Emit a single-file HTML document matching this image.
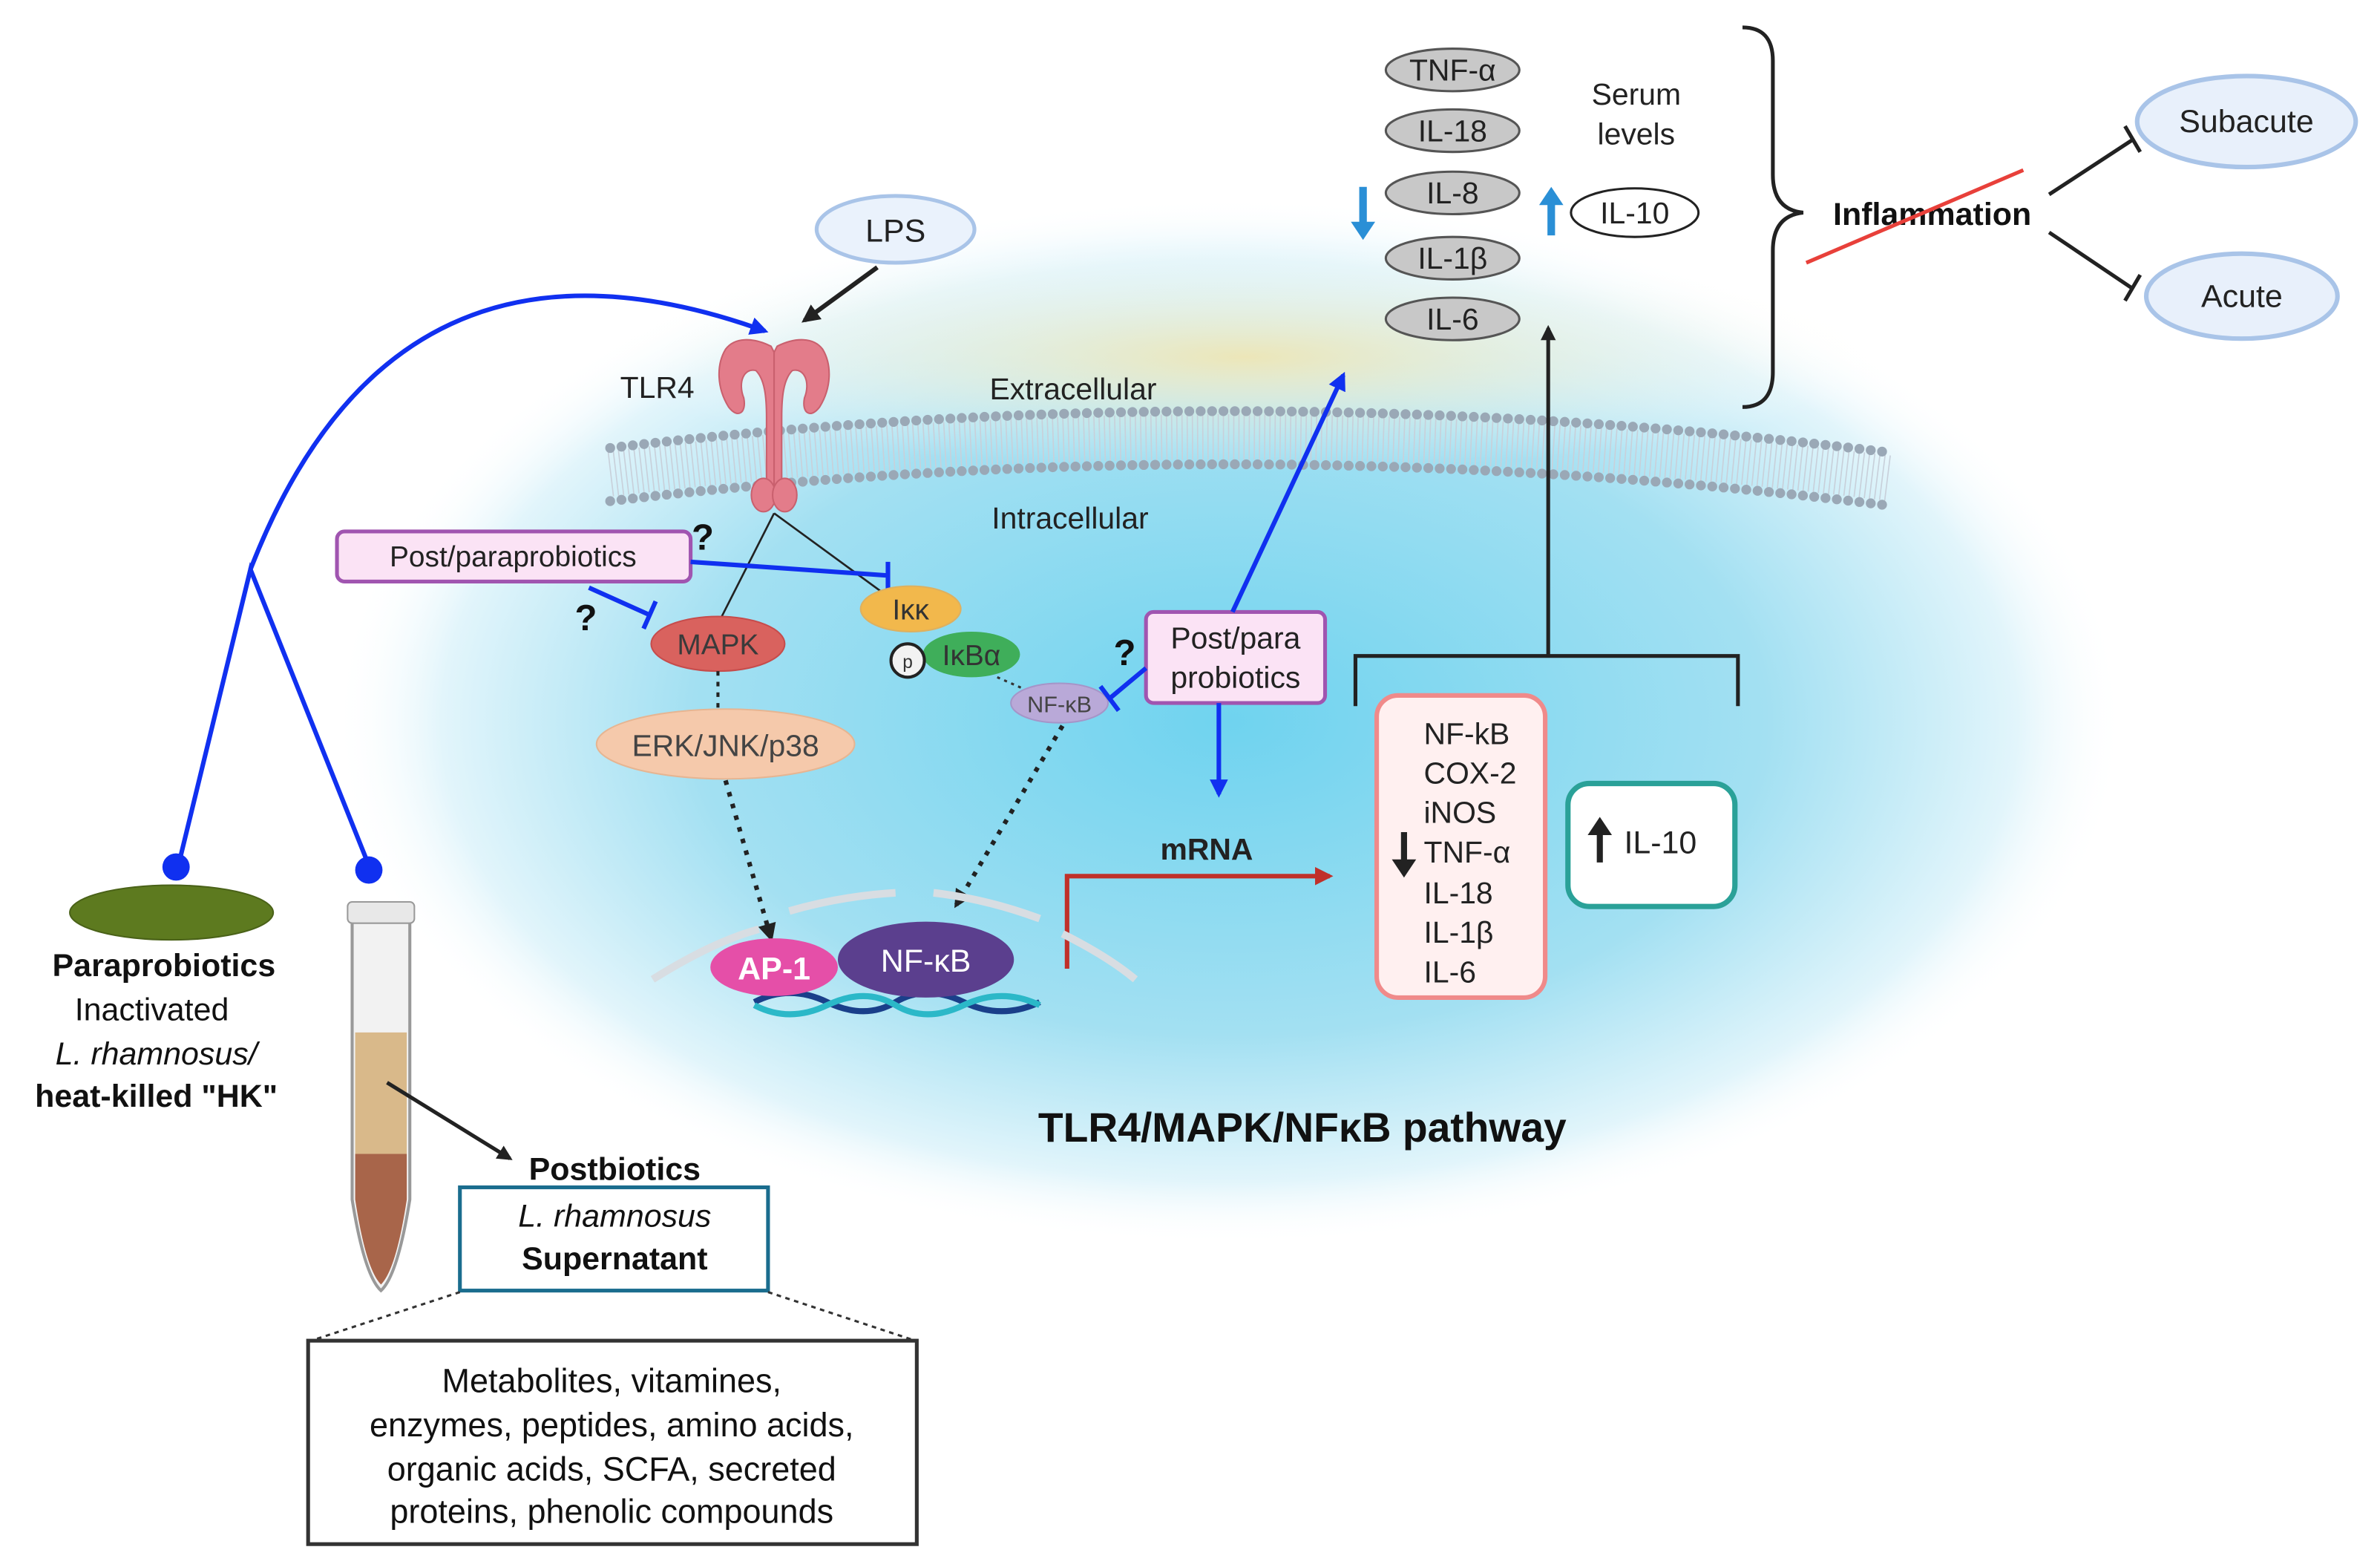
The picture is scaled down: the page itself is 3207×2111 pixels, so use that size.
<!DOCTYPE html>
<html><head><meta charset="utf-8"><style>
html,body{margin:0;padding:0;background:#fff}
svg{display:block}
text{font-family:"Liberation Sans",sans-serif}
</style></head><body>
<svg width="3207" height="2111" viewBox="0 0 1568 1032" xmlns="http://www.w3.org/2000/svg">
<defs>
<radialGradient id="cell" cx="0.5" cy="0.5" r="0.5">
<stop offset="0" stop-color="#6fd3ef"/>
<stop offset="0.6" stop-color="#a3e0f2"/>
<stop offset="0.88" stop-color="#e2f5fb"/>
<stop offset="1" stop-color="#ffffff" stop-opacity="0"/>
</radialGradient>
<radialGradient id="ext" cx="0.5" cy="0.5" r="0.5">
<stop offset="0" stop-color="#ece6b8"/>
<stop offset="1" stop-color="#ffffff" stop-opacity="0"/>
</radialGradient>
<marker id="ab" viewBox="0 0 10 10" refX="8" refY="5" markerWidth="4" markerHeight="4" orient="auto"><path d="M0,0L10,5L0,10z" fill="#1030f0"/></marker>
<marker id="ak" viewBox="0 0 10 10" refX="8" refY="5" markerWidth="4" markerHeight="4" orient="auto"><path d="M0,0L10,5L0,10z" fill="#222"/></marker>
<marker id="ar" viewBox="0 0 10 10" refX="8" refY="5" markerWidth="4" markerHeight="4" orient="auto"><path d="M0,0L10,5L0,10z" fill="#c0302a"/></marker>
</defs>
<ellipse cx="810" cy="475" rx="590" ry="345" fill="url(#cell)"/>
<ellipse cx="820" cy="235" rx="430" ry="75" fill="url(#ext)"/>
<!-- membrane -->
<path d="M402,312 Q820,262 1245,315" stroke="#c8d0da" stroke-width="30" stroke-dasharray="0.8 2.6" fill="none"/>
<path d="M402,295 Q820,245 1245,298" stroke="#9aa8b6" stroke-width="6.5" stroke-linecap="round" stroke-dasharray="0 7.5" fill="none"/>
<path d="M402,330 Q820,280 1245,333" stroke="#9aa8b6" stroke-width="6.5" stroke-linecap="round" stroke-dasharray="0 7.5" fill="none"/>
<text x="707" y="263" font-size="20" text-anchor="middle" fill="#222">Extracellular</text>
<text x="705" y="348" font-size="20" text-anchor="middle" fill="#222">Intracellular</text>
<!-- LPS -->
<ellipse cx="590" cy="151" rx="52" ry="22" fill="#eaf2fc" stroke="#a9c4e8" stroke-width="2.5"/>
<text x="590" y="159" font-size="21" text-anchor="middle" fill="#222">LPS</text>
<line x1="578" y1="176" x2="530" y2="211" stroke="#222" stroke-width="3" marker-end="url(#ak)"/>
<!-- TLR4 -->
<text x="433" y="262" font-size="20" text-anchor="middle" fill="#222">TLR4</text>
<g fill="#e37c8a" stroke="#c9606e" stroke-width="1">
<path d="M508,228 C496,222 484,222 478,230 C472,240 472,255 480,268 C486,276 492,272 490,262 C486,252 490,242 498,244 C504,250 505,262 505,275 L505,322 L510,322 L510,232 Z"/>
<path d="M512,228 C524,222 536,222 542,230 C548,240 548,255 540,268 C534,276 528,272 530,262 C534,252 530,242 522,244 C516,250 515,262 515,275 L515,322 L510,322 L510,232 Z"/>
<ellipse cx="503" cy="326" rx="8" ry="11"/><ellipse cx="517" cy="326" rx="8" ry="11"/>
</g>
<line x1="510" y1="338" x2="475" y2="407" stroke="#222" stroke-width="1.3"/>
<line x1="510" y1="338" x2="588" y2="395" stroke="#222" stroke-width="1.3"/>
<!-- Post/paraprobiotics box -->
<rect x="222" y="350" width="233" height="33" rx="5" fill="#fbe3f5" stroke="#a055b0" stroke-width="2.5"/>
<text x="338" y="373" font-size="19" text-anchor="middle" fill="#222">Post/paraprobiotics</text>
<text x="463" y="362" font-size="24" font-weight="bold" text-anchor="middle" fill="#111">?</text>
<text x="386" y="415" font-size="24" font-weight="bold" text-anchor="middle" fill="#111">?</text>
<path d="M455,370 L585,379 M585,370 L585,390" stroke="#1030f0" stroke-width="3" fill="none"/>
<path d="M388,387 L428,405 M432,396 L424,414" stroke="#1030f0" stroke-width="3" fill="none"/>
<!-- MAPK etc -->
<ellipse cx="473" cy="424" rx="44" ry="18" fill="#d9625e" stroke="#c64c4c"/>
<text x="473" y="431" font-size="19" text-anchor="middle" fill="#3a3a3a">MAPK</text>
<line x1="473" y1="442" x2="473" y2="468" stroke="#222" stroke-width="2" stroke-dasharray="3,4"/>
<ellipse cx="478" cy="490" rx="85" ry="23" fill="#f5c9ab" stroke="#e6b592"/>
<text x="478" y="498" font-size="20" text-anchor="middle" fill="#444">ERK/JNK/p38</text>
<ellipse cx="600" cy="401" rx="33" ry="15" fill="#f2b84c" stroke="#ddb060"/>
<text x="600" y="408" font-size="19" text-anchor="middle" fill="#333">Iκκ</text>
<ellipse cx="640" cy="431" rx="32" ry="15" fill="#3fae5a"/>
<text x="640" y="438" font-size="19" text-anchor="middle" fill="#333">IκBα</text>
<circle cx="598" cy="435" r="11" fill="#f2f2f2" stroke="#222" stroke-width="2"/>
<text x="598" y="440" font-size="12" text-anchor="middle" fill="#333">p</text>
<line x1="657" y1="446" x2="682" y2="457" stroke="#333" stroke-width="1.5" stroke-dasharray="2,3"/>
<ellipse cx="698" cy="463" rx="32" ry="13" fill="#b9a9d8" stroke="#a595c8"/>
<text x="698" y="469" font-size="15" text-anchor="middle" fill="#444">NF-κB</text>
<line x1="478" y1="514" x2="508" y2="618" stroke="#222" stroke-width="3" stroke-dasharray="3,5" marker-end="url(#ak)"/>
<line x1="700" y1="478" x2="630" y2="596" stroke="#222" stroke-width="3" stroke-dasharray="3,5" marker-end="url(#ak)"/>
<!-- Post/para probiotics right -->
<rect x="755" y="403" width="118" height="60" rx="5" fill="#fbe3f5" stroke="#a055b0" stroke-width="2.5"/>
<text x="814" y="427" font-size="20" text-anchor="middle" fill="#222">Post/para</text>
<text x="814" y="453" font-size="20" text-anchor="middle" fill="#222">probiotics</text>
<text x="741" y="438" font-size="24" font-weight="bold" text-anchor="middle" fill="#111">?</text>
<path d="M755,440 L731,460 M725,452 L737,468" stroke="#1030f0" stroke-width="3" fill="none"/>
<line x1="812" y1="403" x2="885" y2="247" stroke="#1030f0" stroke-width="3" marker-end="url(#ab)"/>
<line x1="803" y1="463" x2="803" y2="523" stroke="#1030f0" stroke-width="3" marker-end="url(#ab)"/>
<text x="795" y="566" font-size="20" font-weight="bold" text-anchor="middle" fill="#222">mRNA</text>
<path d="M703,638 L703,577 L876,577" stroke="#c0302a" stroke-width="3" fill="none" marker-end="url(#ar)"/>
<!-- nucleus -->
<path d="M430,645 Q470,620 500,612" stroke="#d8dde2" stroke-width="5" fill="none"/>
<path d="M520,600 Q555,590 590,588" stroke="#d8dde2" stroke-width="5" fill="none"/>
<path d="M615,588 Q650,592 685,605" stroke="#d8dde2" stroke-width="5" fill="none"/>
<path d="M700,615 Q730,630 748,645" stroke="#d8dde2" stroke-width="5" fill="none"/>
<path d="M497,660 Q520,648 545,660 T590,660 T635,660 T685,660" stroke="#1a3f8a" stroke-width="4" fill="none"/>
<path d="M497,662 Q520,674 545,662 T590,662 T635,662 T685,662" stroke="#2bb8c8" stroke-width="4" fill="none"/>
<ellipse cx="510" cy="637" rx="42" ry="19" fill="#e54fa8"/>
<text x="510" y="645" font-size="21" font-weight="bold" text-anchor="middle" fill="#fff">AP-1</text>
<ellipse cx="610" cy="632" rx="58" ry="25" fill="#5b3f8e"/>
<text x="610" y="640" font-size="21" text-anchor="middle" fill="#fff">NF-κB</text>
<text x="858" y="752" font-size="27" font-weight="bold" text-anchor="middle" fill="#111">TLR4/MAPK/NFκB pathway</text>
<!-- bracket -->
<path d="M893,465 L893,432 L1145,432 L1145,465" stroke="#222" stroke-width="2.5" fill="none"/>
<line x1="1020" y1="432" x2="1020" y2="216" stroke="#222" stroke-width="2.5" marker-end="url(#ak)"/>
<rect x="907" y="458" width="111" height="199" rx="14" fill="#fff0f0" stroke="#f08a8a" stroke-width="3"/>
<g font-size="20" fill="#222">
<text x="938" y="490">NF-kB</text><text x="938" y="516">COX-2</text><text x="938" y="542">iNOS</text><text x="938" y="568">TNF-α</text><text x="938" y="595">IL-18</text><text x="938" y="621">IL-1β</text><text x="938" y="647">IL-6</text>
</g>
<path d="M925,548 L925,570" stroke="#222" stroke-width="4"/><path d="M917,566 L925,578 L933,566Z" fill="#222"/>
<rect x="1033" y="516" width="110" height="81" rx="14" fill="#fff" stroke="#2aa198" stroke-width="3.5"/>
<path d="M1054,568 L1054,546" stroke="#222" stroke-width="4"/><path d="M1046,550 L1054,538 L1062,550Z" fill="#222"/>
<text x="1070" y="562" font-size="21" fill="#222">IL-10</text>
<!-- cytokines -->
<g fill="#c8c8c8" stroke="#555" stroke-width="1.5">
<ellipse cx="957" cy="46" rx="44" ry="14"/><ellipse cx="957" cy="86" rx="44" ry="14"/><ellipse cx="957" cy="127" rx="44" ry="14"/><ellipse cx="957" cy="170" rx="44" ry="14"/><ellipse cx="957" cy="210" rx="44" ry="14"/>
</g>
<g font-size="20" fill="#222" text-anchor="middle">
<text x="957" y="53">TNF-α</text><text x="957" y="93">IL-18</text><text x="957" y="134">IL-8</text><text x="957" y="177">IL-1β</text><text x="957" y="217">IL-6</text>
<text x="1078" y="69">Serum</text><text x="1078" y="95">levels</text>
</g>
<path d="M898,123 L898,148" stroke="#2a8fd6" stroke-width="5"/><path d="M890,146 L898,158 L906,146Z" fill="#2a8fd6"/>
<path d="M1022,155 L1022,132" stroke="#2a8fd6" stroke-width="5"/><path d="M1014,135 L1022,123 L1030,135Z" fill="#2a8fd6"/>
<ellipse cx="1077" cy="140" rx="42" ry="16" fill="#fff" stroke="#222" stroke-width="1.5"/>
<text x="1077" y="147" font-size="20" text-anchor="middle" fill="#222">IL-10</text>
<path d="M1148,18 Q1168,18 1168,40 L1168,115 Q1168,138 1188,140 Q1168,142 1168,165 L1168,245 Q1168,268 1148,268" stroke="#222" stroke-width="2.5" fill="none"/>
<text x="1273" y="148" font-size="21" font-weight="bold" text-anchor="middle" fill="#111">Inflammation</text>
<line x1="1190" y1="173" x2="1333" y2="112" stroke="#e8403a" stroke-width="2.5"/>
<path d="M1350,128 L1405,92 M1400,83 L1410,100" stroke="#222" stroke-width="2.5" fill="none"/>
<path d="M1350,153 L1405,190 M1410,181 L1400,198" stroke="#222" stroke-width="2.5" fill="none"/>
<ellipse cx="1480" cy="80" rx="72" ry="30" fill="#e8f0fb" stroke="#a9c4e8" stroke-width="3"/>
<text x="1480" y="87" font-size="21" text-anchor="middle" fill="#222">Subacute</text>
<ellipse cx="1477" cy="195" rx="63" ry="28" fill="#e8f0fb" stroke="#a9c4e8" stroke-width="3"/>
<text x="1477" y="202" font-size="21" text-anchor="middle" fill="#222">Acute</text>
<!-- blue curves -->
<path d="M165,375 Q260,130 504,218" stroke="#1030f0" stroke-width="3" fill="none" marker-end="url(#ab)"/>
<path d="M118,568 L165,375 L243,570" stroke="#1030f0" stroke-width="3" fill="none"/>
<circle cx="116" cy="571" r="9" fill="#1030f0"/><circle cx="243" cy="573" r="9" fill="#1030f0"/>
<ellipse cx="113" cy="601" rx="67" ry="18" fill="#5d7a1f" stroke="#4a6218"/>
<text x="108" y="643" font-size="21" font-weight="bold" text-anchor="middle" fill="#111">Paraprobiotics</text>
<text x="100" y="672" font-size="21" text-anchor="middle" fill="#111">Inactivated</text>
<text x="103" y="701" font-size="21" font-style="italic" text-anchor="middle" fill="#111">L. rhamnosus/</text>
<text x="103" y="729" font-size="21" font-weight="bold" text-anchor="middle" fill="#111">heat-killed "HK"</text>
<!-- tube -->
<path d="M232,605 L270,605 L270,790 Q262,840 251,850 Q240,840 232,790 Z" fill="#f2f2f2" stroke="#999" stroke-width="2"/>
<path d="M234,680 L268,680 L268,760 L234,760 Z" fill="#d9b98a"/>
<path d="M234,760 L268,760 L268,790 Q261,836 251,846 Q241,836 234,790 Z" fill="#a8654a"/>
<rect x="229" y="594" width="44" height="14" rx="3" fill="#e8e8e8" stroke="#999"/>
<line x1="255" y1="713" x2="336" y2="763" stroke="#222" stroke-width="2.5" marker-end="url(#ak)"/>
<text x="405" y="777" font-size="21" font-weight="bold" text-anchor="middle" fill="#111">Postbiotics</text>
<rect x="303" y="782" width="203" height="68" fill="#fff" stroke="#1a6d8e" stroke-width="2.5"/>
<text x="405" y="808" font-size="21" font-style="italic" text-anchor="middle" fill="#111">L. rhamnosus</text>
<text x="405" y="836" font-size="21" font-weight="bold" text-anchor="middle" fill="#111">Supernatant</text>
<line x1="303" y1="851" x2="205" y2="883" stroke="#333" stroke-width="1.5" stroke-dasharray="3,3"/>
<line x1="506" y1="851" x2="603" y2="883" stroke="#333" stroke-width="1.5" stroke-dasharray="3,3"/>
<rect x="203" y="883" width="401" height="134" fill="#fff" stroke="#333" stroke-width="2.5"/>
<g font-size="22" text-anchor="middle" fill="#111">
<text x="403" y="917">Metabolites, vitamines,</text>
<text x="403" y="946">enzymes, peptides, amino acids,</text>
<text x="403" y="975">organic acids, SCFA, secreted</text>
<text x="403" y="1003">proteins,  phenolic compounds</text>
</g>
</svg>
</body></html>
